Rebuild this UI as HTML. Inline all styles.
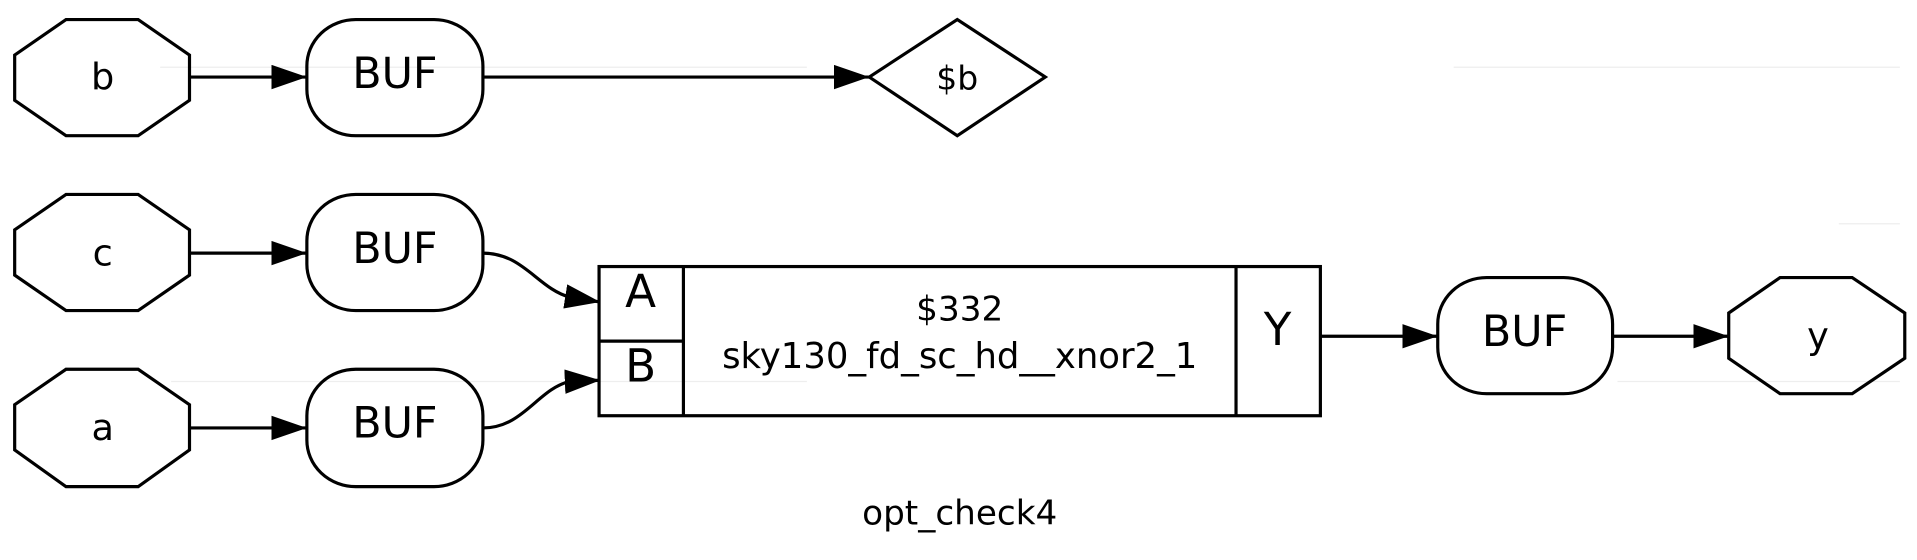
<!DOCTYPE html>
<html><head><meta charset="utf-8"><style>
html,body{margin:0;padding:0;background:#fff;}
svg{display:block;}
text{font-family:"DejaVu Sans","Liberation Sans",sans-serif;fill:#000;}
</style></head><body>
<svg width="1917" height="560" viewBox="0 0 1568 458" preserveAspectRatio="none" xmlns="http://www.w3.org/2000/svg">
<defs>
<marker id="ah" markerUnits="userSpaceOnUse" markerWidth="30" markerHeight="22" refX="29" refY="10" orient="auto">
<path d="M0,0 L29,10 L0,20 Z" fill="#000"/>
</marker>
</defs>
<g stroke="#eee" stroke-width="1">
<line x1="131" y1="55" x2="660" y2="55"/>
<line x1="1189" y1="55" x2="1554" y2="55"/>
<line x1="1504" y1="183" x2="1554" y2="183"/>
<line x1="140" y1="312" x2="660" y2="312"/>
<line x1="1323" y1="312" x2="1554" y2="312"/>
</g>
<g fill="none" stroke="#000" stroke-width="2.6">
<polygon points="54,16 113,16 155,45 155,82 113,111 54,111 12,82 12,45"/>
<polygon points="54,159 113,159 155,188 155,225 113,254 54,254 12,225 12,188"/>
<polygon points="54,302 113,302 155,331 155,368 113,398 54,398 12,368 12,331"/>
<polygon points="1456,227 1515,227 1558,256 1558,293 1515,322 1456,322 1414,293 1414,256"/>
<rect x="251" y="16" width="144" height="95" rx="40" ry="38"/>
<rect x="251" y="159" width="144" height="95" rx="40" ry="38"/>
<rect x="251" y="302" width="144" height="96" rx="40" ry="38"/>
<rect x="1176" y="227" width="143" height="95" rx="40" ry="38"/>
<polygon points="711,63 783,16 855,63 783,111"/>
<rect x="490" y="218" width="590" height="122"/>
<line x1="559" y1="218" x2="559" y2="340"/>
<line x1="490" y1="279" x2="559" y2="279"/>
<line x1="1011" y1="218" x2="1011" y2="340"/>
<line x1="155" y1="63" x2="251" y2="63" marker-end="url(#ah)"/>
<line x1="395" y1="63" x2="711" y2="63" marker-end="url(#ah)"/>
<line x1="155" y1="207" x2="251" y2="207" marker-end="url(#ah)"/>
<line x1="155" y1="350" x2="251" y2="350" marker-end="url(#ah)"/>
<path d="M395,207 C428,207 440,236 466,243 L491,247" marker-end="url(#ah)"/>
<path d="M395,350 C428,350 440,318 466,312 L491,311" marker-end="url(#ah)"/>
<line x1="1080" y1="275" x2="1176" y2="275" marker-end="url(#ah)"/>
<line x1="1319" y1="275" x2="1414" y2="275" marker-end="url(#ah)"/>
</g>
<g text-anchor="middle">
<text x="84" y="73" font-size="30">b</text>
<text x="84" y="217" font-size="30">c</text>
<text x="84" y="360" font-size="30">a</text>
<text x="1487" y="285" font-size="30">y</text>
<text x="783" y="73" font-size="27">$b</text>
<text x="323" y="72" font-size="35">BUF</text>
<text x="323" y="215" font-size="35">BUF</text>
<text x="323" y="358" font-size="35">BUF</text>
<text x="1247" y="283" font-size="35">BUF</text>
<text x="524" y="251" font-size="37">A</text>
<text x="524" y="312" font-size="37">B</text>
<text x="1045" y="282" font-size="37">Y</text>
<text x="785" y="262" font-size="28">$332</text>
<text x="785" y="301" font-size="29">sky130_fd_sc_hd__xnor2_1</text>
<text x="785" y="429" font-size="28">opt_check4</text>
</g>
</svg>
</body></html>
